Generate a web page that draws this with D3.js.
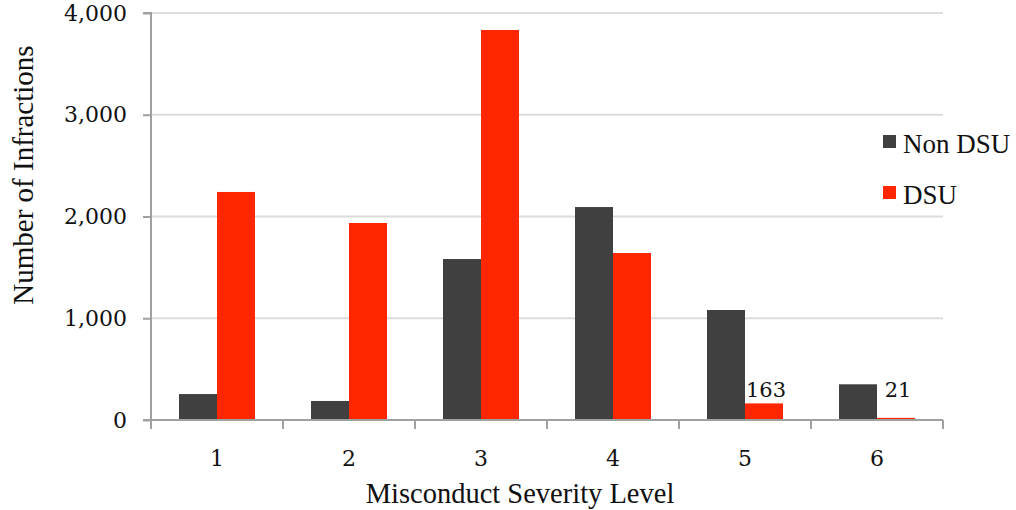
<!DOCTYPE html>
<html>
<head>
<meta charset="utf-8">
<script src="https://cdn.jsdelivr.net/npm/d3@7/dist/d3.min.js"></script>
<style>
  html, body { margin: 0; padding: 0; background: #fff; }
  svg { display: block; }
</style>
</head>
<body>
<script>
// Infractions by misconduct severity level, split by DSU status
const levels = ["1", "2", "3", "4", "5", "6"];
const nonDsu = [255, 187, 1582, 2093, 1081, 351];
const dsu = [2241, 1936, 3833, 1641, 163, 21];
const seriesNames = ["Non DSU", "DSU"];
const seriesColors = ["#404040", "#ff2600"];
const yTicks = [0, 1000, 2000, 3000, 4000];
const labelledLevels = ["5", "6"]; // DSU bars carrying value labels

const W = 1016, H = 510;
const plot = { left: 151, right: 943, top: 13, bottom: 420 };

const svg = d3.select("body").append("svg").attr("width", W).attr("height", H);

const x = d3.scaleBand().domain(levels).range([plot.left, plot.right]).paddingInner(0).paddingOuter(0);
const inner = d3.scaleBand().domain(seriesNames).range([28, x.bandwidth() - 28]).padding(0);
const y = d3.scaleLinear().domain([0, 4000]).range([plot.bottom, plot.top]);

const numFont = "'DejaVu Serif', Georgia, serif";
const textFont = "'Liberation Serif', 'Times New Roman', serif";

// gridlines
svg.append("g").selectAll("line").data(yTicks.filter(t => t > 0)).join("line")
  .attr("x1", plot.left).attr("x2", plot.right)
  .attr("y1", d => y(d)).attr("y2", d => y(d))
  .attr("stroke", "#dcdcdc").attr("stroke-width", 2);

// bars
const rows = levels.map((l, i) => ({ level: l, values: [nonDsu[i], dsu[i]] }));
const groups = svg.append("g").selectAll("g").data(rows).join("g")
  .attr("transform", d => `translate(${x(d.level)},0)`);
groups.selectAll("rect").data(d => d.values.map((v, j) => ({ name: seriesNames[j], value: v, color: seriesColors[j] })))
  .join("rect")
  .attr("x", d => inner(d.name))
  .attr("width", inner.bandwidth())
  .attr("y", d => y(d.value))
  .attr("height", d => y(0) - y(d.value))
  .attr("fill", d => d.color);

// value labels on the small DSU bars
const labelTop = y(163) - 6;
svg.append("g").selectAll("text")
  .data(rows.filter(r => labelledLevels.includes(r.level)))
  .join("text")
  .attr("x", d => x(d.level) + inner("DSU") + inner.bandwidth() / 2 + 2)
  .attr("y", d => Math.min(y(d.values[1]) - 6, labelTop))
  .attr("text-anchor", "middle")
  .attr("font-family", numFont).attr("font-size", 21).attr("fill", "#111")
  .text(d => d.values[1]);

// y axis
const yAxis = svg.append("g").attr("transform", `translate(${plot.left},0)`)
  .call(d3.axisLeft(y).tickValues(yTicks).tickFormat(d3.format(",")).tickSize(8).tickPadding(16));
yAxis.select(".domain").attr("stroke", "#a0a0a0").attr("stroke-width", 2).attr("d", `M-8,${plot.top}H0V${plot.bottom}`);
yAxis.selectAll(".tick line").attr("stroke", "#a0a0a0").attr("stroke-width", 2);
yAxis.selectAll(".tick text").attr("font-family", numFont).attr("font-size", 22).attr("fill", "#111");

// x axis
const xAxis = svg.append("g").attr("transform", `translate(0,${plot.bottom})`)
  .call(d3.axisBottom(x).tickSize(0).tickPadding(30));
xAxis.select(".domain").attr("stroke", "#a0a0a0").attr("stroke-width", 2).attr("d", `M${plot.left - 8},0H${plot.right}`);
xAxis.selectAll(".tick text").attr("font-family", numFont).attr("font-size", 22).attr("fill", "#111");
// category boundary ticks
const bounds = levels.map(l => x(l)).concat([x(levels[levels.length - 1]) + x.bandwidth()]);
xAxis.append("g").selectAll("line").data(bounds).join("line")
  .attr("x1", d => d).attr("x2", d => d).attr("y1", 0).attr("y2", 9)
  .attr("stroke", "#a0a0a0").attr("stroke-width", 2);

// axis titles
svg.append("text")
  .attr("x", 520).attr("y", 503)
  .attr("text-anchor", "middle")
  .attr("font-family", textFont).attr("font-size", 28.5).attr("fill", "#111")
  .text("Misconduct Severity Level");
svg.append("text")
  .attr("transform", "translate(33,175) rotate(-90)")
  .attr("text-anchor", "middle")
  .attr("font-family", textFont).attr("font-size", 29).attr("fill", "#111")
  .text("Number of Infractions");

// legend
const legend = svg.append("g").attr("transform", "translate(883,135)");
const items = legend.selectAll("g").data(seriesNames).join("g")
  .attr("transform", (d, i) => `translate(0,${i * 51})`);
items.append("rect").attr("width", 13).attr("height", 13).attr("fill", (d, i) => seriesColors[i]);
items.append("text").attr("x", 20).attr("y", 18)
  .attr("font-family", textFont).attr("font-size", 27).attr("fill", "#111")
  .text(d => d);
</script>
</body>
</html>
